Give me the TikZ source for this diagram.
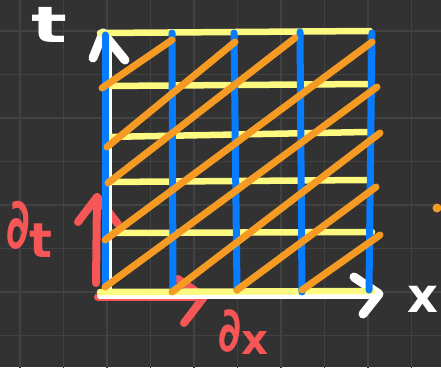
\documentclass[tikz,border=0pt]{standalone}
\usepackage{fontspec}
\setmainfont{DejaVu Sans}
\definecolor{bg}{RGB}{50,50,50}
\definecolor{gridc}{RGB}{66,66,66}
\definecolor{bl}{RGB}{8,124,255}
\definecolor{yl}{RGB}{252,249,128}
\definecolor{og}{RGB}{245,154,35}
\definecolor{rd}{RGB}{246,86,86}
\begin{document}
\begin{tikzpicture}[x=1pt,y=-1pt,line cap=round,line join=round,
  gridline/.style={gridc,line width=1.5pt},
  blueline/.style={bl,line width=7pt},
  yelline/.style={yl,line width=6.5pt},
  orline/.style={og,line width=7pt},
  redline/.style={rd,line width=8pt},
  axisline/.style={white,line width=6pt},
  chev/.style={white,line width=9pt},
  lbl/.style={inner sep=0pt,font=\bfseries}]
\fill[bg] (0,0) rectangle (441,367);
\useasboundingbox (0,0) rectangle (441,367);
% background grid
\foreach \x in {20,63.5,107,150.5,194,237.5,281,324.5,368,411.5}
  \draw[gridline] (\x,-2) -- (\x,369);
\foreach \y in {31,74.5,118,161.5,205,248.5,292,335.5}
  \draw[gridline] (-2,\y) -- (443,\y);
% red arrows
\coordinate (rtB) at (96,283);
\coordinate (rtT) at (97,197);
\draw[redline] (rtB) -- (rtT);
\draw[redline] (78,222) -- (rtT) -- (118,224);
\coordinate (rxL) at (98,297);
\coordinate (rxR) at (204,297);
\draw[redline] (rxL) -- (rxR);
\draw[redline] (178,279) -- (rxR) -- (184,323);
% white axes
\coordinate (O) at (109,294);
\coordinate (tTop) at (103,33);
\coordinate (xEnd) at (379,294);
\draw[axisline] (109,292) -- (109,40);
\draw[chev] (93,58) -- (tTop) -- (125,60);
\draw[axisline] (100,296) -- (372,296);
\draw[chev] (354,277) -- (xEnd) -- (363,314);
% yellow horizontals
\draw[yelline] (100,33) -- (370,31);
\draw[yelline] (105,86) -- (368,84);
\draw[yelline] (105,137) -- (367,132);
\draw[yelline] (107,182) -- (367,180);
\draw[yelline] (107,233) -- (372,232);
\draw[yelline] (100,292) -- (372,291);
% blue verticals
\draw[blueline] (105,35) -- (105,285);
\draw[blueline] (172,33) -- (173,289);
\draw[blueline] (234,33) -- (237,290);
\draw[blueline] (300,32) -- (302,292);
\draw[blueline] (372,33) -- (369,290);
% orange diagonals
\draw[orline] (102,88) -- (172,40);
\draw[orline] (107,147) -- (235,42);
\draw[orline] (108,183) -- (295,38);
\draw[orline] (105,240) -- (372,42);
\draw[orline] (105,287) -- (377,87);
\draw[orline] (172,292) -- (380,133);
\draw[orline] (237,290) -- (376,187);
\draw[orline] (302,290) -- (380,235);
\fill[og] (437,208) circle (4.5);
% labels
\node[lbl,white] (tl) at (49,25) {\scalebox{1.5}[1]{\fontsize{50}{50}\selectfont t}};
\node[lbl,white] (xl) at (423,299) {\fontsize{48}{48}\selectfont x};
\node[lbl,rd,anchor=base west] (dt) at (6,248) {\scalebox{0.62}[1]{\fontsize{70}{70}\selectfont ∂}\raisebox{-9pt}{\fontsize{48}{48}\selectfont t}};
\node[lbl,rd,anchor=base west] (dx) at (218,351) {\scalebox{0.68}[1]{\fontsize{62}{62}\selectfont ∂}\raisebox{-3pt}{\fontsize{42}{42}\selectfont x}};
\end{tikzpicture}
\end{document}
